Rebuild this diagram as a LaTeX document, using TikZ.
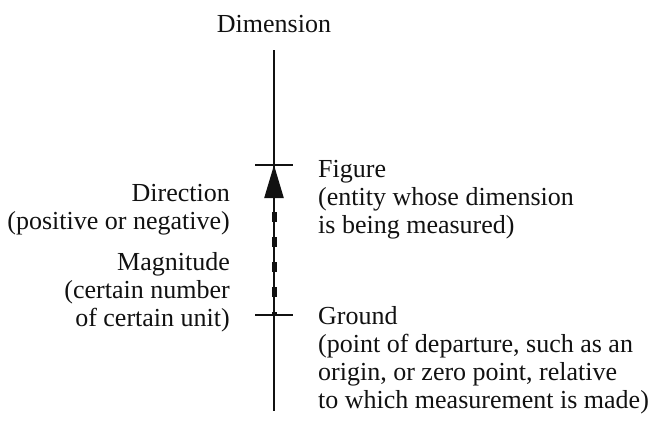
\documentclass[tikz,border=0pt]{standalone}
\usepackage{fontspec}
\setmainfont{Liberation Serif}
\usepackage{tikz}
\usetikzlibrary{arrows.meta, positioning}
\definecolor{inkblack}{HTML}{111111}
\tikzset{
  % text blocks
  lbl/.style={inner sep=0pt, font=\fontsize{26}{28}\selectfont, text=inkblack},
  lblL/.style={lbl, align=right, anchor=base east},
  lblR/.style={lbl, align=left, anchor=base west},
  % the measuring axis and its marks
  axis/.style={draw=inkblack, line width=2.3pt},
  tickmark/.style={draw=inkblack, line width=2.3pt},
  measure/.style={draw=inkblack, line width=5pt, dash pattern=on 10pt off 15pt,
                  dash phase=13pt},
  measuretip/.style={draw=inkblack, line width=2.3pt,
                     -{Triangle[length=33pt, width=19pt]}},
}
\begin{document}
\begin{tikzpicture}[x=1pt, y=-1pt]
\useasboundingbox (0,0) rectangle (657,421);

% ── Axis ─────────────────────────────────────────────────────────────────────
\node[lbl, anchor=base] (dimlbl) at (274, 32) {Dimension};
\coordinate (top) at (274, 50);
\coordinate (bot) at (274, 411);
\draw[axis] (top) -- (bot);

% ── Figure and Ground marks ─────────────────────────────────────────────────
\coordinate (fig)  at (274, 165);
\coordinate (figL) at (255, 165);
\coordinate (figR) at (293, 165);
\coordinate (gnd)  at (274, 315);
\coordinate (gndL) at (255, 315);
\coordinate (gndR) at (293, 315);
\draw[tickmark] (figL) -- (figR);
\draw[tickmark] (gndL) -- (gndR);

% ── Measured vector ─────────────────────────────────────────────────────────
\coordinate (abase) at (274, 200);
\draw[measure] (abase) -- (gnd);
\draw[measuretip] (abase) -- (fig);

% ── Labels (anchored at the baseline of the last line) ──────────────────────
\node[lblR] (figlbl) at (318, 233)
  {Figure\\(entity whose dimension\\is being measured)};
\node[lblR] (gndlbl) at (318, 408)
  {Ground\\(point of departure, such as an\\origin, or zero point, relative\\to which measurement is made)};
\node[lblL] (dirlbl) at (230, 229)
  {Direction\\(positive or negative)};
\node[lblL] (maglbl) at (230, 326)
  {Magnitude\\(certain number\\of certain unit)};

\end{tikzpicture}
\end{document}
